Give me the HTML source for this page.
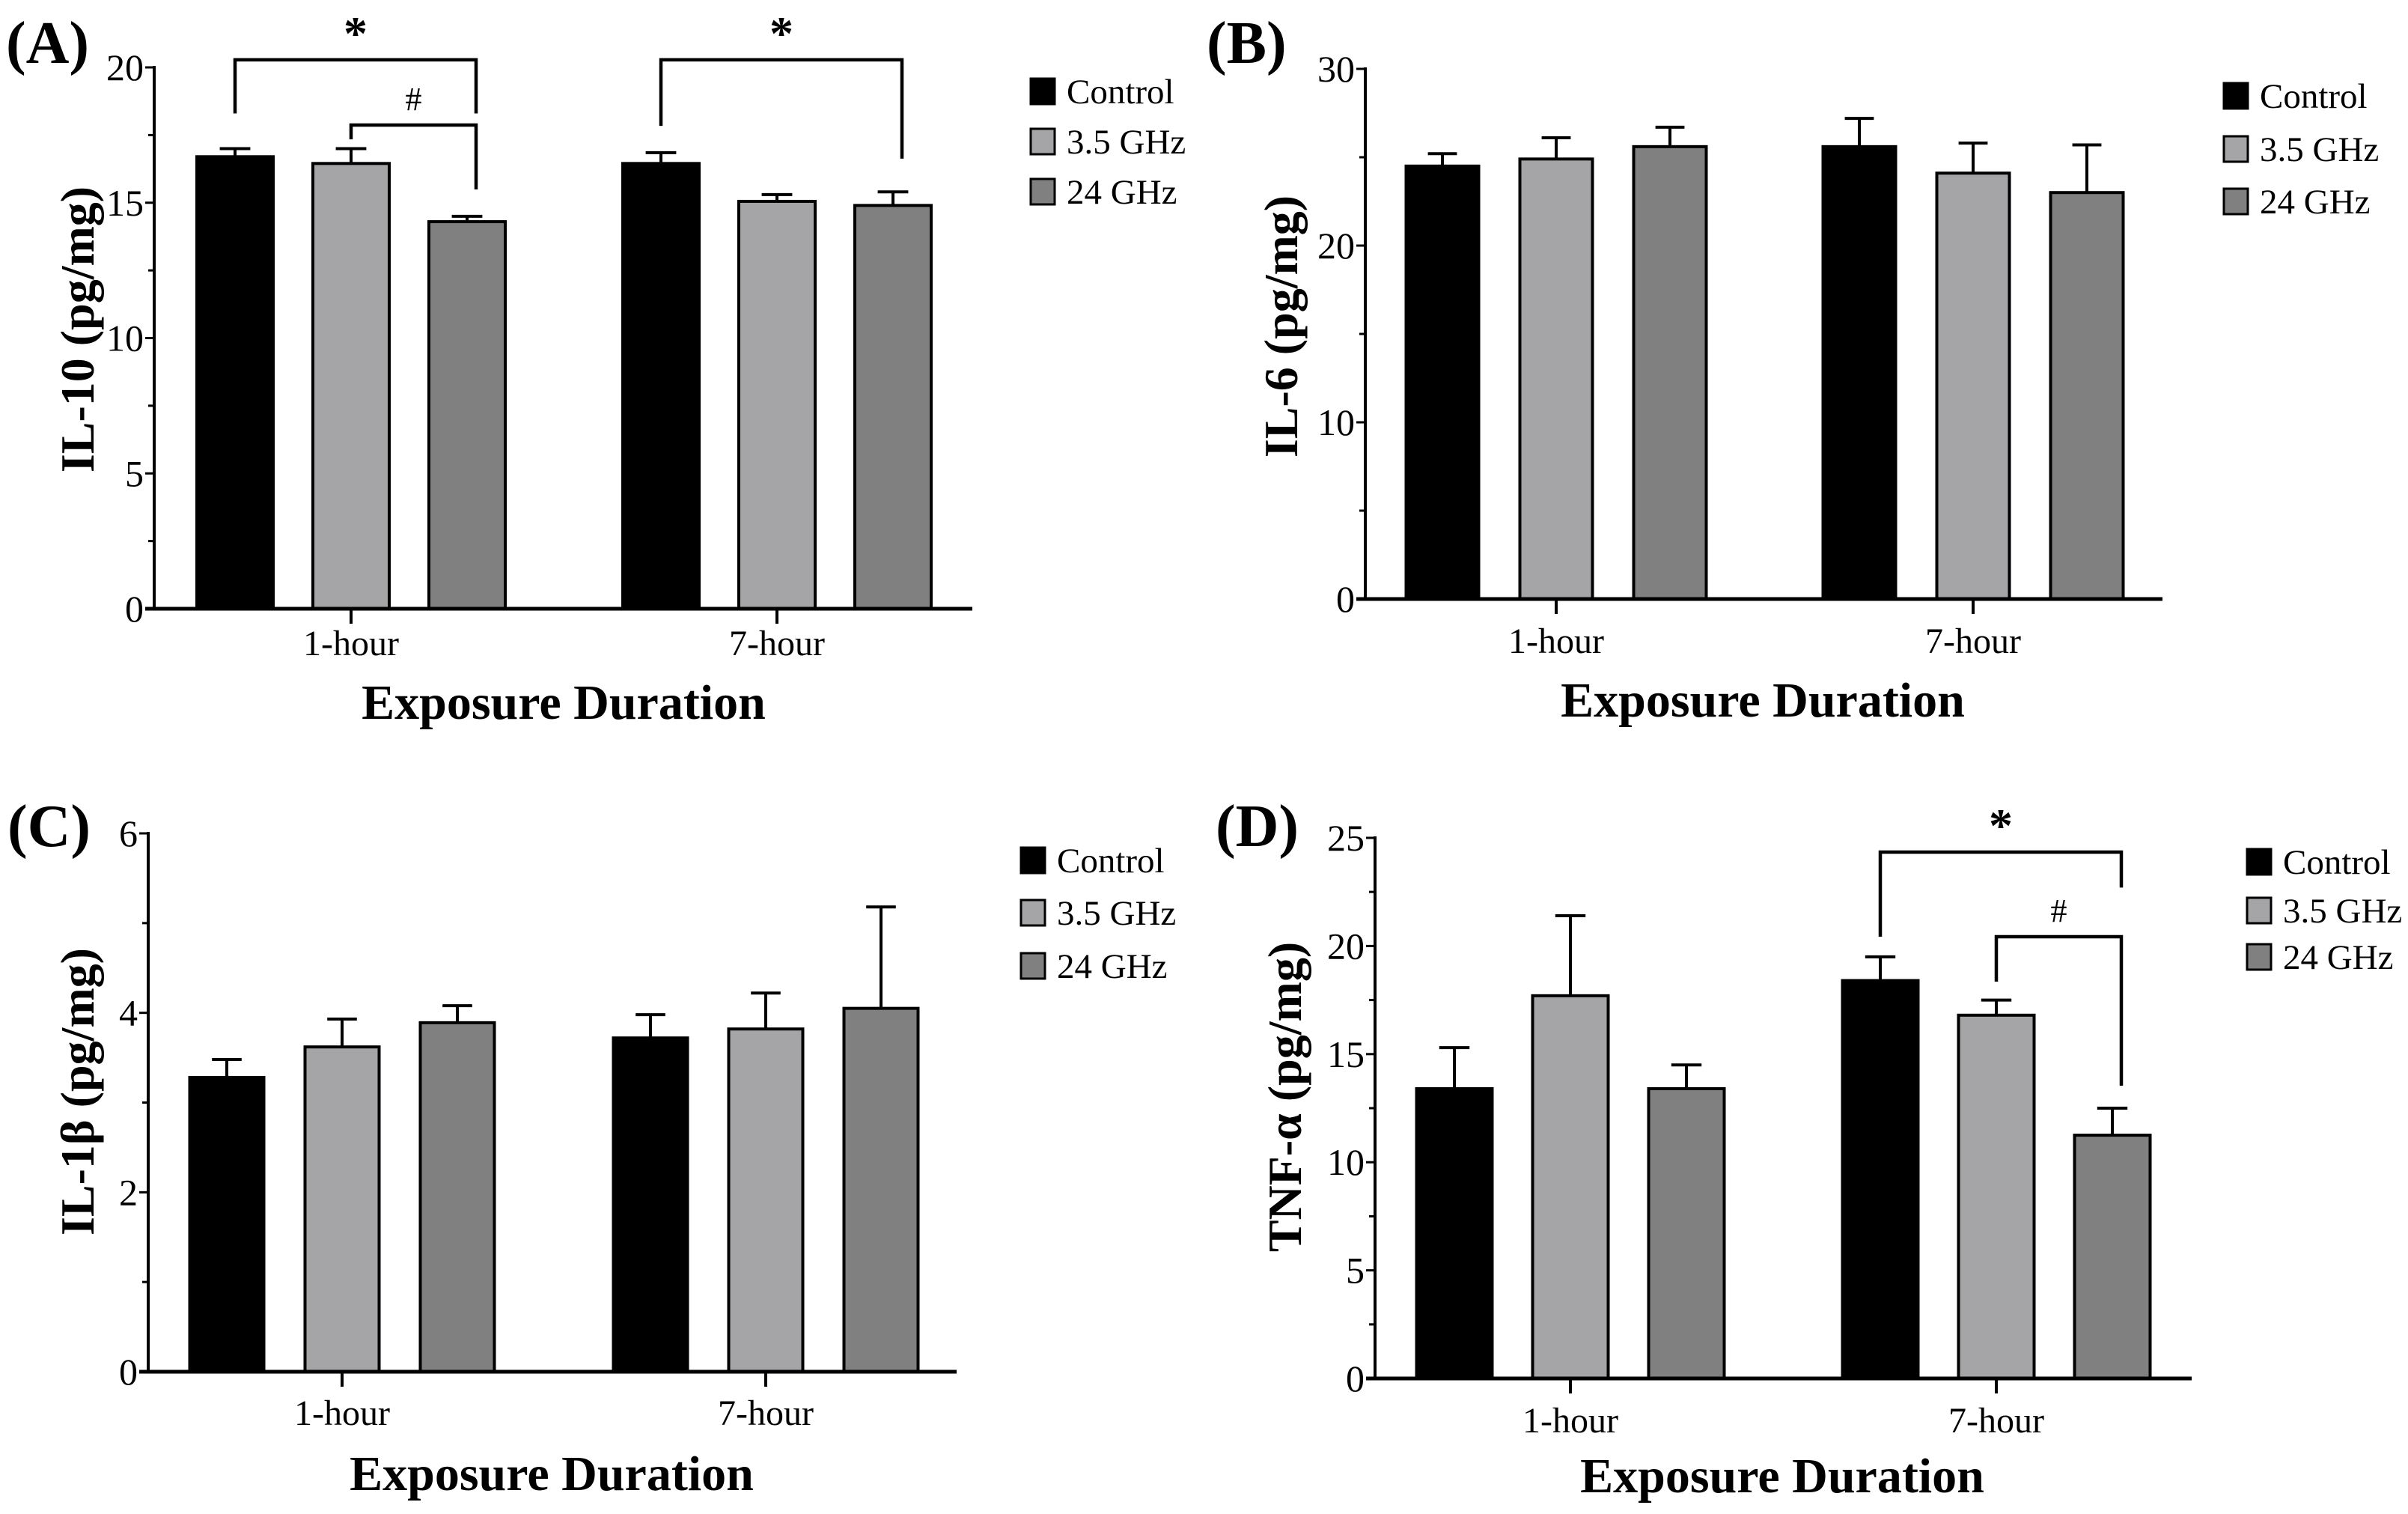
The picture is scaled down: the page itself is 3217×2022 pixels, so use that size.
<!DOCTYPE html>
<html><head><meta charset="utf-8">
<style>
html,body{margin:0;padding:0;background:#fff;}
svg{display:block;}
text{font-family:"Liberation Serif","DejaVu Serif",serif;fill:#000;}
</style></head>
<body>
<svg id="fig" xmlns="http://www.w3.org/2000/svg" width="3217" height="2022" viewBox="0 0 3217 2022"></svg>
<script>
// ---- data ----
const groups = ["1-hour", "7-hour"];
const seriesNames = ["Control", "3.5 GHz", "24 GHz"];
const seriesColors = ["#000000", "#a5a5a8", "#808080"];

const il10Means = [[16.7, 16.45, 14.3], [16.45, 15.05, 14.9]];
const il10Errs  = [[17.0, 17.0, 14.5], [16.85, 15.3, 15.4]];
const il6Means  = [[24.5, 24.9, 25.6], [25.6, 24.1, 23.0]];
const il6Errs   = [[25.2, 26.1, 26.7], [27.2, 25.8, 25.7]];
const il1bMeans = [[3.28, 3.62, 3.89], [3.72, 3.82, 4.05]];
const il1bErrs  = [[3.48, 3.93, 4.08], [3.98, 4.22, 5.18]];
const tnfMeans  = [[13.4, 17.7, 13.4], [18.4, 16.8, 11.25]];
const tnfErrs   = [[15.3, 21.4, 14.5], [19.5, 17.5, 12.5]];

const il10Ticks = [0, 5, 10, 15, 20];
const il6Ticks  = [0, 10, 20, 30];
const il1bTicks = [0, 2, 4, 6];
const tnfTicks  = [0, 5, 10, 15, 20, 25];

// significance brackets: [group, leftBar, rightBar, topValue, leftBottom, rightBottom, symbol]
const il10Brackets = [[0, 0, 2, 20.28, 18.3, 18.3, "*"], [0, 1, 2, 17.87, 17.34, 15.49, "#"], [1, 0, 2, 20.28, 17.84, 16.63, "*"]];
const tnfBrackets  = [[1, 0, 2, 24.34, 20.43, 22.7, "*"], [1, 1, 2, 20.43, 18.35, 13.54, "#"]];

const panels = [
 {id:"a", label:"(A)", title:"IL-10 (pg/mg)", means:il10Means, errs:il10Errs, ticks:il10Ticks, minor:2.5, brackets:il10Brackets,
  ax0:206, ax1:1299, y0:813, yTop:90, ymax:20, centers:[469,1038], sp:155, bw:102,
  lblX:8, lblY:84, ytX:103, ytY:440, xtX:753, xtY:960, tkY:875, legX:1377, legY:[122,189,256]},
 {id:"b", label:"(B)", title:"IL-6 (pg/mg)", means:il6Means, errs:il6Errs, ticks:il6Ticks, minor:5, brackets:[],
  ax0:1824, ax1:2889, y0:800, yTop:92, ymax:30, centers:[2079,2636], sp:152, bw:97,
  lblX:1612, lblY:84, ytX:1711, ytY:436, xtX:2355, xtY:957, tkY:872, legX:2971, legY:[128,199,269]},
 {id:"c", label:"(C)", title:"IL-1β (pg/mg)", means:il1bMeans, errs:il1bErrs, ticks:il1bTicks, minor:1, brackets:[],
  ax0:198, ax1:1278, y0:1832, yTop:1113, ymax:6, centers:[457,1023], sp:154, bw:99,
  lblX:10, lblY:1130, ytX:103, ytY:1458, xtX:737, xtY:1990, tkY:1903, legX:1364, legY:[1149,1219,1290]},
 {id:"d", label:"(D)", title:"TNF-α (pg/mg)", means:tnfMeans, errs:tnfErrs, ticks:tnfTicks, minor:2.5, brackets:tnfBrackets,
  ax0:1837, ax1:2928, y0:1841, yTop:1119, ymax:25, centers:[2098,2667], sp:155, bw:101,
  lblX:1624, lblY:1130, ytX:1716, ytY:1465, xtX:2381, xtY:1993, tkY:1913, legX:3002, legY:[1151,1216,1278]}
];

const NS = "http://www.w3.org/2000/svg";
const svg = document.getElementById("fig");
function mk(tag, attrs, parent){
  const e = document.createElementNS(NS, tag);
  for (const k in attrs) e.setAttribute(k, attrs[k]);
  (parent||svg).appendChild(e);
  return e;
}

panels.forEach(p => {
  const g = mk("g", {});
  
  
  const yScale = v => p.y0 - (v / p.ymax) * (p.y0 - p.yTop);
  const barCx = (gi, si) => p.centers[gi] + (si - 1) * p.sp;

  const pl = mk("text", {x:p.lblX, y:p.lblY, "font-size":80, "font-weight":"bold"}, g);
  pl.textContent = p.label;
  
  

  p.means.forEach((row, gi) => row.forEach((v, si) => {
    const cx = barCx(gi, si);
    const top = yScale(v);
    const r = mk("rect", {x:cx - p.bw/2, y:top, width:p.bw, height:p.y0 - top, fill:seriesColors[si], stroke:"#000", "stroke-width":4}, g);
    
    
    const ey = yScale(p.errs[gi][si]);
    const cw = p.bw * 0.2;
    const eb = mk("path", {d:`M${cx},${top} V${ey} M${cx-cw},${ey} H${cx+cw}`, stroke:"#000", "stroke-width":4, fill:"none"}, g);
    
    
  }));

  const ya = mk("line", {x1:p.ax0, y1:p.yTop - 2, x2:p.ax0, y2:p.y0, stroke:"#000", "stroke-width":4}, g);
  
  
  for (let v = 0; v <= p.ymax + 1e-9; v += p.minor) {
    const y = yScale(v);
    const isMajor = p.ticks.some(t => Math.abs(t - v) < 1e-9);
    mk("line", {x1:p.ax0 - (isMajor ? 12 : 8), y1:y, x2:p.ax0, y2:y, stroke:"#000", "stroke-width":3}, g);
  }
  p.ticks.forEach(t => {
    const tl = mk("text", {x:p.ax0 - 14, y:yScale(t) + 17, "font-size":50, "text-anchor":"end", fill:"#333"}, g);
    tl.textContent = t;
    
    
  });

  const xa = mk("line", {x1:p.ax0 - 12, y1:p.y0, x2:p.ax1, y2:p.y0, stroke:"#000", "stroke-width":5}, g);
  
  
  groups.forEach((name, gi) => {
    mk("line", {x1:p.centers[gi], y1:p.y0, x2:p.centers[gi], y2:p.y0 + 20, stroke:"#000", "stroke-width":4}, g);
    const xl = mk("text", {x:p.centers[gi], y:p.tkY, "font-size":48, "text-anchor":"middle", fill:"#222"}, g);
    xl.textContent = name;
    
    
  });

  const xt = mk("text", {x:p.xtX, y:p.xtY, "font-size":66, "font-weight":"bold", "text-anchor":"middle"}, g);
  xt.textContent = "Exposure Duration";
  
  
  const yt = mk("text", {x:0, y:0, "font-size":64, "font-weight":"bold", "text-anchor":"middle",
    transform:`translate(${p.ytX + 22},${p.ytY}) rotate(-90)`}, g);
  yt.textContent = p.title;
  
  

  p.brackets.forEach(b => {
    const [gi, l, r, top, lb, rb, sym] = b;
    const xl = barCx(gi, l), xr = barCx(gi, r) + 12;
    const yt2 = yScale(top);
    const br = mk("path", {d:`M${xl},${yScale(lb)} V${yt2} H${xr} V${yScale(rb)}`, stroke:"#000", "stroke-width":4.5, fill:"none"}, g);
    
    
    const st = mk("text", {x:(xl + xr)/2, y: sym === "*" ? yt2 - 14 : yt2 - 20, "font-size": sym === "*" ? 64 : 44,
      "font-weight": sym === "*" ? "bold" : "normal", "text-anchor":"middle", fill: sym === "*" ? "#000" : "#444"}, g);
    st.textContent = sym;
    
    
  });

  seriesNames.forEach((name, si) => {
    const cy = p.legY[si];
    const lr = mk("rect", {x:p.legX, y:cy - 17, width:32, height:34, fill:seriesColors[si], stroke:"#000", "stroke-width":3}, g);
    
    
    const lt = mk("text", {x:p.legX + 48, y:cy + 16, "font-size":47, fill:"#111"}, g);
    lt.textContent = name;
    
    
  });
});
</script>
</body></html>
